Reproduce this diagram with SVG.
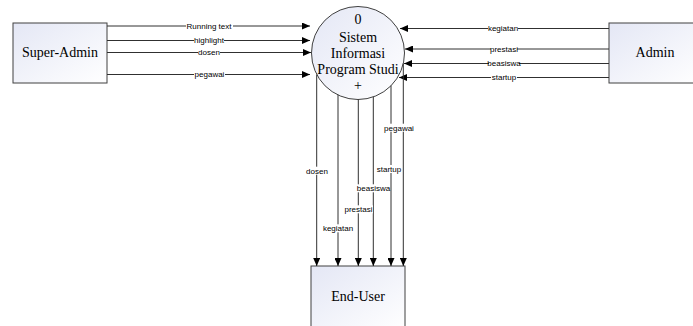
<svg xmlns="http://www.w3.org/2000/svg" width="693" height="326" viewBox="0 0 693 326">
<defs>
<linearGradient id="g" x1="0" y1="0" x2="1" y2="1">
<stop offset="0" stop-color="#e4e7f5"/>
<stop offset="1" stop-color="#ffffff"/>
</linearGradient>
<marker id="ah" markerWidth="8" markerHeight="7" refX="8" refY="3.5" orient="auto" markerUnits="userSpaceOnUse">
<path d="M0,0 L8,3.5 L0,7 Z" fill="#000"/>
</marker>
<style>
.box{fill:url(#g);stroke:#404040;stroke-width:1}
.big{font-family:"Liberation Serif","Times New Roman",serif;font-size:14px;fill:#000;text-anchor:middle}
.flow{fill:none;stroke:#303030;stroke-width:1;marker-end:url(#ah)}
.lbl{font-family:"Liberation Sans",Arial,sans-serif;font-size:8px;fill:#000;text-anchor:middle}
.bg{fill:#fff}
</style>
</defs>
<rect width="693" height="326" fill="#fff"/>
<g id="super-admin">
<rect class="box" x="13" y="23" width="94" height="60"/>
<text class="big" x="60" y="57">Super-Admin</text>
</g>
<g id="admin">
<rect class="box" x="609" y="23" width="92" height="60"/>
<text class="big" x="655" y="57">Admin</text>
</g>
<g id="end-user">
<rect class="box" x="311" y="266" width="94" height="64"/>
<text class="big" x="358" y="301">End-User</text>
</g>
<g id="process">
<circle cx="358" cy="53" r="46.5" fill="url(#g)" stroke="#404040" stroke-width="1"/>
<text class="big" x="358" y="24">0</text>
<text class="big" x="358" y="41.5">Sistem</text>
<text class="big" x="358" y="57.5">Informasi</text>
<text class="big" x="358" y="74">Program Studi</text>
<text class="big" x="358" y="90">+</text>
</g>
<g id="connectors">
<line class="flow" x1="107" y1="26" x2="310" y2="26"/>
<line class="flow" x1="107" y1="40.5" x2="310" y2="40.5"/>
<line class="flow" x1="107" y1="52.5" x2="311" y2="52.5"/>
<line class="flow" x1="107" y1="74.5" x2="310" y2="74.5"/>
<line class="flow" x1="609" y1="28.5" x2="400" y2="28.5"/>
<line class="flow" x1="609" y1="49" x2="405" y2="49"/>
<line class="flow" x1="609" y1="63.5" x2="404" y2="63.5"/>
<line class="flow" x1="609" y1="77.5" x2="399" y2="77.5"/>
<line class="flow" x1="316.7" y1="74.5" x2="316.7" y2="266"/>
<line class="flow" x1="338" y1="94.8" x2="338" y2="266"/>
<line class="flow" x1="358.3" y1="99.5" x2="358.3" y2="266"/>
<line class="flow" x1="373.3" y1="96.9" x2="373.3" y2="266"/>
<line class="flow" x1="391" y1="85.7" x2="391" y2="266"/>
<line class="flow" x1="403.3" y1="63.5" x2="403.3" y2="266"/>
<g id="labels">
<rect class="bg" x="186" y="22" width="47" height="8"/><text class="lbl" x="209" y="28.8">Running text</text>
<rect class="bg" x="194" y="36.5" width="30" height="8"/><text class="lbl" x="209" y="43.3">highlight</text>
<rect class="bg" x="198" y="48.5" width="22" height="8"/><text class="lbl" x="209" y="55.3">dosen</text>
<rect class="bg" x="194" y="70.5" width="31" height="8"/><text class="lbl" x="209.5" y="77.3">pegawai</text>
<rect class="bg" x="488" y="24.5" width="30" height="8"/><text class="lbl" x="503" y="31.3">kegiatan</text>
<rect class="bg" x="491" y="45" width="26" height="8"/><text class="lbl" x="504" y="51.8">prestasi</text>
<rect class="bg" x="489" y="59.5" width="30" height="8"/><text class="lbl" x="504" y="66.3">beasiswa</text>
<rect class="bg" x="491" y="73.5" width="26" height="8"/><text class="lbl" x="504" y="80.3">startup</text>
<rect class="bg" x="306" y="166.7" width="22" height="8"/><text class="lbl" x="317" y="173.5">dosen</text>
<rect class="bg" x="322" y="224.3" width="32" height="8"/><text class="lbl" x="338" y="231.1">kegiatan</text>
<rect class="bg" x="344" y="205.3" width="29" height="8"/><text class="lbl" x="358.5" y="212.1">prestasi</text>
<rect class="bg" x="357" y="184.3" width="33" height="8"/><text class="lbl" x="373.5" y="191.1">beasiswa</text>
<rect class="bg" x="376" y="165" width="26" height="8"/><text class="lbl" x="389" y="171.8">startup</text>
<rect class="bg" x="388" y="123.7" width="22" height="8"/><text class="lbl" x="399" y="130.5">pegawai</text>
</g>
</g>
</svg>
